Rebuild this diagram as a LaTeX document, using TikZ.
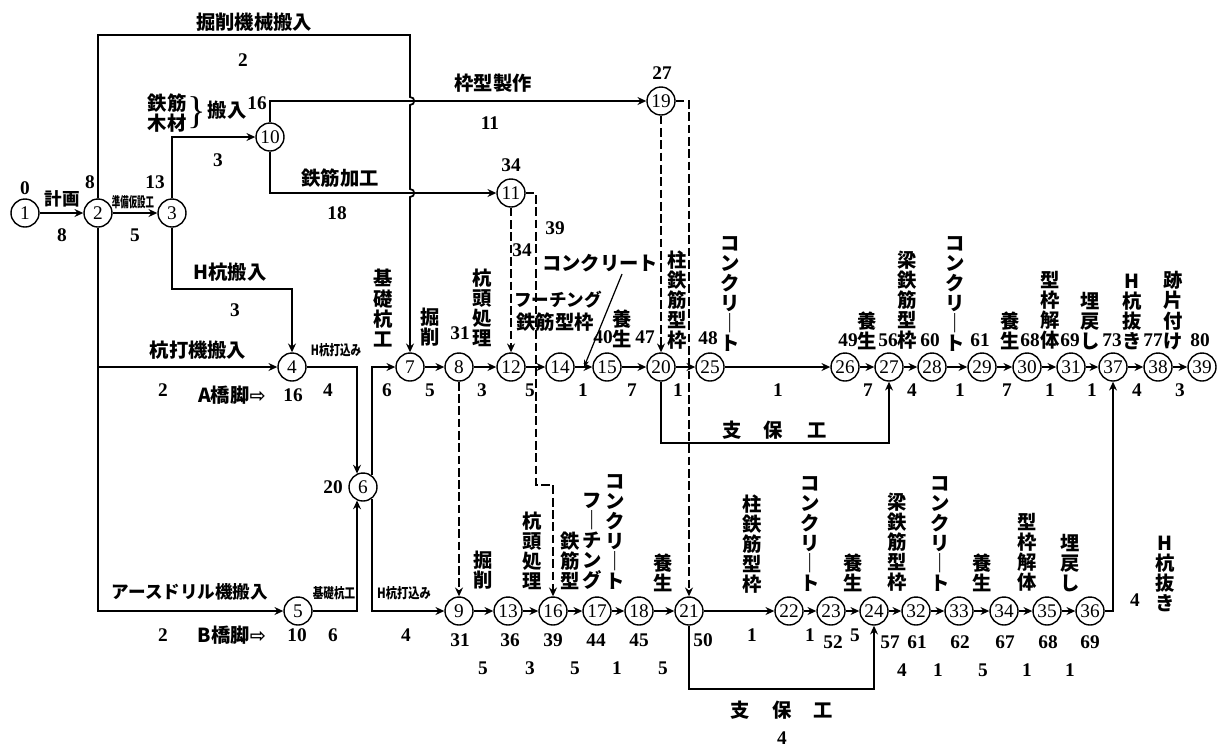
\documentclass[tikz,border=0pt]{standalone}
\usepackage{fontspec}
\usepackage{graphicx}
\setmainfont{Liberation Serif}
\newfontfamily\jp{Noto Sans CJK JP}
\newfontfamily\dv{DejaVu Sans}
\usetikzlibrary{arrows.meta,calc}
\begin{document}
\begin{tikzpicture}[x=0.02cm,y=-0.02cm,
  ev/.style={circle,draw,line width=0.8pt,minimum size=0.56cm,inner sep=0pt,fill=white,font=\fontsize{11}{11}\selectfont},
  arr/.style={line width=1pt,-{Stealth[length=5pt,width=4.5pt]}},
  dum/.style={arr,dash pattern=on 5pt off 2pt},
  num/.style={font=\bfseries\fontsize{11}{11}\selectfont,inner sep=0pt},
  jl/.style={font=\jp\bfseries\fontsize{11}{11}\selectfont,inner sep=0pt},
  jm/.style={font=\jp\bfseries\fontsize{10}{10}\selectfont,inner sep=0pt},
  vl/.style={font=\jp\bfseries\fontsize{11}{11.4}\selectfont,inner sep=0pt,align=center,anchor=south},
  sm/.style={font=\jp\bfseries\fontsize{8}{8}\selectfont,inner sep=0pt}]
\fill[white] (0,0) rectangle (1222,752);
\useasboundingbox (0,0) rectangle (1222,752);
% events
\node[ev] (n1) at (25,213) {1};
\node[ev] (n2) at (98,213) {2};
\node[ev] (n3) at (172,213) {3};
\node[ev] (n10) at (270,137) {10};
\node[ev] (n11) at (511,193) {11};
\node[ev] (n19) at (661,101) {19};
\node[ev] (n4) at (292,367) {4};
\node[ev] (n6) at (363,487) {6};
\node[ev] (n5) at (298,611) {5};
\foreach \n/\x in {7/410,8/459,12/511,14/560,15/607,20/661,25/710,26/845,27/889,28/932,29/982,30/1027,31/1071,37/1113,38/1158,39/1202}
  \node[ev] (n\n) at (\x,367) {\n};
\foreach \n/\x in {9/459,13/508,16/553,17/597,18/639,21/689,22/789,23/831,24/874,32/916,33/959,34/1004,35/1047,36/1090}
  \node[ev] (n\n) at (\x,611) {\n};
% connectors
\draw[arr] (n1) -- (n2);
\draw[arr] (n2) -- (n3);
\draw[arr] (n2.north) |- (410,35) -- (410,97) to[out=0,in=0,looseness=1.8] (410,105) -- (410,189) to[out=0,in=0,looseness=1.8] (410,197) -- (n7.north);
\draw[arr] (n3.north) |- (n10);
\draw[arr] (n10.north) |- (n19);
\draw[arr] (n10.south) |- (n11);
\draw[arr] (n3.south) -- (172,289) -| (n4.north);
\draw[arr] (n2.south) |- (n4);
\draw[arr] (n2.south) |- (n5);
\draw[arr] (n4.east) -| (n6.114);
\draw[arr] (n5.east) -| (n6.-114);
\draw[arr] (n6.53) |- (n7);
\draw[arr] (n6.-53) |- (n9);
\foreach \a/\b in {7/8,8/12,12/14,14/15,15/20,20/25,25/26,26/27,27/28,28/29,29/30,30/31,31/37,37/38,38/39,
  9/13,13/16,16/17,17/18,18/21,21/22,22/23,23/24,24/32,32/33,33/34,34/35,35/36}
  \draw[arr] (n\a) -- (n\b);
\draw[arr] (n36.east) -| (n37.south);
\draw[arr] (n20.south) -- (661,443) -| (n27.south);
\draw[arr] (n21.south) -- (689,689) -| (n24.south);
\draw[dum] (n11.south) -- (n12.north);
\draw[dum] (n11.east) -| (536,485) -| (n16.north);
\draw[dum] (n8.south) -- (n9.north);
\draw[dum] (n19.south) -- (n20.north);
\draw[dum] (n19.east) -| (n21.north);
\coordinate (lc) at (622,274);
\coordinate (m1415) at (584,367);
\draw[line width=0.7pt,-{Stealth[length=4pt,width=3pt]}] (lc) -- (m1415);
% top labels
\node[jl] (tA) at (254,22) {掘削機械搬入};
\node[num] (dA) at (243,60) {2};
\node[jm] (tB) at (62,199) {計画};
\node[num] (dB) at (62,235) {8};
\node[num] (e1) at (25,188) {0};
\node[num] (e2) at (90,182) {8};
\node[sm] (tC) at (133,202) {\scalebox{0.6}[1]{準備仮設工}};
\node[num] (dC) at (135,235) {5};
\node[num] (e3) at (155,182) {13};
\node[jl] (tD1) at (167,103) {鉄筋};
\node[jl] (tD2) at (167,123) {木材};
\node[inner sep=0pt,font=\fontsize{22}{22}\selectfont] (br) at (197,113) {\}};
\node[jl] (tD3) at (227,110) {搬入};
\node[num] (e10) at (257,103) {16};
\node[num] (dD) at (218,160) {3};
\node[jl] (tE) at (493,83) {枠型製作};
\node[num] (dE) at (490,123) {11};
\node[jl] (tF) at (340,178) {鉄筋加工};
\node[num] (dF) at (337,213) {18};
\node[num] (e11) at (511,165) {34};
\node[num] (e19) at (662,73) {27};
\node[num] (x39) at (555,228) {39};
\node[num] (x34) at (522,250) {34};
% left middle labels
\node[jl] (tG) at (230,272) {H杭搬入};
\node[num] (dG) at (235,310) {3};
\node[jl] (tH) at (198,350) {杭打機搬入};
\node[num] (dH) at (163,390) {2};
\node[jl] (tI) at (232,395) {A橋脚{\dv ⇨}};
\node[num] (e4) at (293,395) {16};
\node[sm] (tJ) at (336,350) {\scalebox{0.75}[1]{H杭打込み}};
\node[num] (dJ) at (328,390) {4};
\node[num] (e6) at (333,487) {20};
\node[jm] (tK) at (190,592) {アースドリル機搬入};
\node[num] (dK) at (163,635) {2};
\node[jl] (tL) at (232,635) {B橋脚{\dv ⇨}};
\node[num] (e5) at (297,635) {10};
\node[sm] (tM) at (334,593) {\scalebox{0.75}[1]{基礎杭工}};
\node[num] (dM) at (333,635) {6};
\node[vl] (tN) at (383,347) {基\\礎\\杭\\工};
\node[num] (dN) at (387,390) {6};
\node[sm] (tO) at (404,593) {\scalebox{0.8}[1]{H杭打込み}};
\node[num] (dO) at (406,635) {4};
% row A labels
\node[vl] (a1) at (430,347) {掘\\削};
\node[vl] (a2) at (482,347) {杭\\頭\\処\\理};
\node[jm] (a3) at (558,300) {フーチング};
\node[jl] (a4) at (555,322) {鉄筋型枠};
\node[jl] (a5) at (600,263) {コンクリート};
\node[vl] (a6) at (622,348) {養\\生};
\node[vl] (a7) at (677,350) {柱\\鉄\\筋\\型\\枠};
\node[vl] (a8) at (730,352) {コ\\ン\\ク\\リ\\｜\\ト};
\node[vl] (a9) at (867,350) {養\\生};
\node[vl] (a10) at (907,350) {梁\\鉄\\筋\\型\\枠};
\node[vl] (a11) at (955,352) {コ\\ン\\ク\\リ\\｜\\ト};
\node[vl] (a12) at (1010,350) {養\\生};
\node[vl] (a13) at (1050,350) {型\\枠\\解\\体};
\node[vl] (a14) at (1090,350) {埋\\戻\\し};
\node[vl] (a15) at (1132,350) {H\\杭\\抜\\き};
\node[vl] (a16) at (1173,350) {跡\\片\\付\\け};
\foreach \t/\x/\y [count=\i] in {31/460/333,40/603/337,47/645/337,48/708/338,49/848/340,56/888/340,60/930/340,61/980/340,68/1030/340,69/1070/340,73/1112/340,77/1153/340,80/1200/340}
  \node[num] (ea\i) at (\x,\y) {\t};
\foreach \t/\x [count=\i] in {5/430,3/482,5/530,1/583,7/632,1/678,1/778,7/868,4/912,1/960,7/1007,1/1050,1/1092,4/1137,3/1180}
  \node[num] (da\i) at (\x,390) {\t};
\node[jl] (s1) at (732,430) {支};
\node[jl] (s2) at (773,430) {保};
\node[jl] (s3) at (817,430) {工};
% row B labels
\node[vl] (b1) at (483,590) {掘\\削};
\node[vl] (b2) at (532,590) {杭\\頭\\処\\理};
\node[vl] (b3) at (570,590) {鉄\\筋\\型};
\node[vl] (b4) at (592,590) {フ\\｜\\チ\\ン\\グ};
\node[vl] (b5) at (615,590) {コ\\ン\\ク\\リ\\｜\\ト};
\node[vl] (b6) at (663,592) {養\\生};
\node[vl] (b7) at (752,594) {柱\\鉄\\筋\\型\\枠};
\node[vl] (b8) at (810,592) {コ\\ン\\ク\\リ\\｜\\ト};
\node[vl] (b9) at (853,592) {養\\生};
\node[vl] (b10) at (897,592) {梁\\鉄\\筋\\型\\枠};
\node[vl] (b11) at (940,592) {コ\\ン\\ク\\リ\\｜\\ト};
\node[vl] (b12) at (982,592) {養\\生};
\node[vl] (b13) at (1027,592) {型\\枠\\解\\体};
\node[vl] (b14) at (1070,592) {埋\\戻\\し};
\node[vl] (b15) at (1165,612) {H\\杭\\抜\\き};
\node[num] (db15) at (1135,600) {4};
\foreach \t/\x/\y [count=\i] in {31/460/640,36/510/640,39/553/640,44/596/640,45/639/640,50/703/640,52/833/642,57/890/642,61/917/642,62/960/642,67/1005/642,68/1048/642,69/1090/642}
  \node[num] (eb\i) at (\x,\y) {\t};
\foreach \t/\x/\y [count=\i] in {1/752/635,1/810/635,5/855/635,5/483/668,3/530/668,5/575/668,1/617/668,5/663/668,4/902/670,1/938/670,5/983/670,1/1027/670,1/1070/670}
  \node[num] (db\i) at (\x,\y) {\t};
\node[jl] (s4) at (740,710) {支};
\node[jl] (s5) at (782,710) {保};
\node[jl] (s6) at (823,710) {工};
\node[num] (ds) at (782,738) {4};
\end{tikzpicture}
\end{document}
